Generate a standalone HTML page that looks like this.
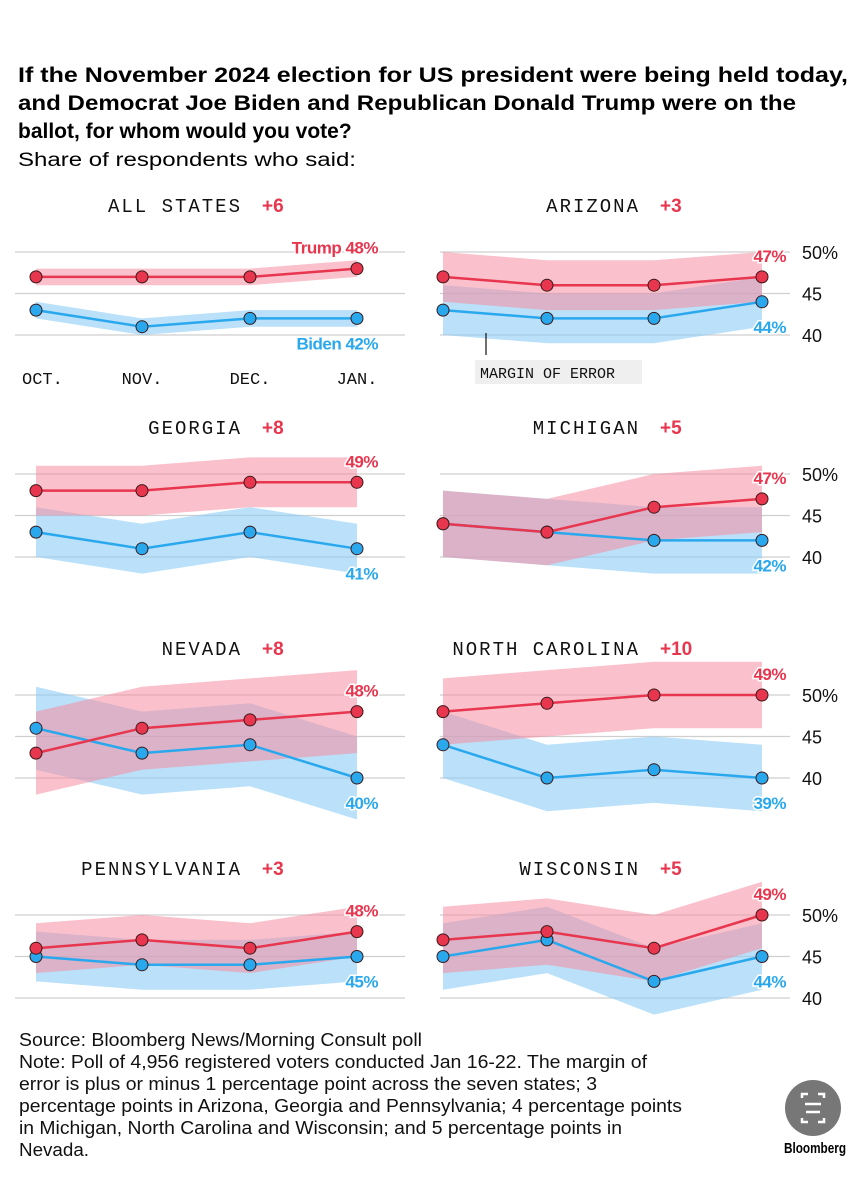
<!DOCTYPE html>
<html><head><meta charset="utf-8"><style>
html,body{margin:0;padding:0;background:#fff;}
svg{display:block;font-family:"Liberation Sans",sans-serif;}
.mono{font-family:"Liberation Mono",monospace;}
</style></head><body>
<svg id="chart" width="867" height="1200" viewBox="0 0 867 1200">
<g>
<text x="18" y="82" font-size="21" font-weight="bold" textLength="830" lengthAdjust="spacingAndGlyphs">If the November 2024 election for US president were being held today,</text>
<text x="18" y="110" font-size="21" font-weight="bold" textLength="778" lengthAdjust="spacingAndGlyphs">and Democrat Joe Biden and Republican Donald Trump were on the</text>
<text x="18" y="138" font-size="21" font-weight="bold">ballot, for whom would you vote?</text>
<text x="18" y="166" font-size="19" textLength="338" lengthAdjust="spacingAndGlyphs">Share of respondents who said:</text>
</g>
<g id="panels"></g>
<g font-size="18" fill="#111">
<text x="19" y="1046" textLength="403" lengthAdjust="spacingAndGlyphs">Source: Bloomberg News/Morning Consult poll</text>
<text x="19" y="1068" textLength="628" lengthAdjust="spacingAndGlyphs">Note: Poll of 4,956 registered voters conducted Jan 16-22. The margin of</text>
<text x="19" y="1090" textLength="578" lengthAdjust="spacingAndGlyphs">error is plus or minus 1 percentage point across the seven states; 3</text>
<text x="19" y="1112" textLength="663" lengthAdjust="spacingAndGlyphs">percentage points in Arizona, Georgia and Pennsylvania; 4 percentage points</text>
<text x="19" y="1134" textLength="603" lengthAdjust="spacingAndGlyphs">in Michigan, North Carolina and Wisconsin; and 5 percentage points in</text>
<text x="19" y="1156" textLength="70" lengthAdjust="spacingAndGlyphs">Nevada.</text>
</g>
<g>
<circle cx="813" cy="1108" r="28" fill="#777"/>
<path d="M802 1098v-4h6M824 1098v-4h-6M802 1118v4h6M824 1118v4h-6M805 1104h16M806 1112h14" stroke="#fff" stroke-width="2.5" fill="none"/>
<text x="846" y="1153" font-size="15" font-weight="bold" text-anchor="end" textLength="62" lengthAdjust="spacingAndGlyphs">Bloomberg</text>
</g>
</svg>
<script>
const panelNames = ["ALL STATES","ARIZONA","GEORGIA","MICHIGAN","NEVADA","NORTH CAROLINA","PENNSYLVANIA","WISCONSIN"];
const trumpValues = [[47,47,47,48],[47,46,46,47],[48,48,49,49],[44,43,46,47],[43,46,47,48],[48,49,50,50],[46,47,46,48],[47,48,46,50]];
const bidenValues = [[43,41,42,42],[43,42,42,44],[43,41,43,41],[44,43,42,42],[46,43,44,40],[44,40,41,40],[45,44,44,45],[45,47,42,45]];
const marginOfError = [1,3,3,4,5,4,3,4];
const trumpLabels = ["48%","47%","49%","47%","48%","49%","48%","49%"];
const bidenLabels = ["42%","44%","41%","42%","40%","39%","45%","44%"];
const leadLabels = ["+6","+3","+8","+5","+8","+10","+3","+5"];
const monthLabels = ["OCT.","NOV.","DEC.","JAN."];
const tickValues = [50,45,40];

const NS="http://www.w3.org/2000/svg";
const root=document.getElementById("panels");
function mk(tag,attrs,parent){const e=document.createElementNS(NS,tag);for(const k in attrs)e.setAttribute(k,attrs[k]);(parent||root).appendChild(e);return e;}
const rowTop=[252,474,695,915];
const colX=[[36,142,250,357],[443,547,654,762]];
const gridX=[[15,405],[440,790]];
const PT=8.3;

panelNames.forEach((name,i)=>{
  const col=i%2,row=Math.floor(i/2);
  const y50=rowTop[row];
  const yS=v=>y50+(50-v)*PT;
  const xS=j=>colX[col][j];
  const g=mk("g",{});
  
  
  const cx=col===0?252:650;
  const t=mk("text",{x:cx-10,y:y50-40,"font-size":19,"text-anchor":"end","class":"mono","letter-spacing":"2",fill:"#111"},g);
  t.textContent=name;
  
  
  const ld=mk("text",{x:cx+10,y:y50-40,"font-size":19,"font-weight":"bold",fill:"#e8364f"},g);
  ld.textContent=leadLabels[i];
  
  
  tickValues.forEach((tv,k)=>{
    const gl=mk("line",{x1:gridX[col][0],x2:gridX[col][1],y1:yS(tv),y2:yS(tv),stroke:"#cfcfcf","stroke-width":1.2},g);
    
    
    if(col===1){
      const tl=mk("text",{x:802,y:yS(tv)+7,"font-size":18,fill:"#111"},g);
      tl.textContent=tv+(k===0?"%":"");
      
      
    }
  });
  const moe=marginOfError[i];
  const band=(vals,fill)=>{
    let d="M"+vals.map((v,j)=>xS(j)+","+yS(v+moe)).join("L");
    d+="L"+vals.slice().reverse().map((v,j)=>xS(3-j)+","+yS(v-moe)).join("L")+"Z";
    return mk("path",{d:d,fill:fill},g);
  };
  const bb=band(bidenValues[i],"rgba(140,205,245,0.6)");
  
  
  const tb=band(trumpValues[i],"rgba(245,140,160,0.55)");
  
  
  const series=(vals,color,nm)=>{
    const l=mk("polyline",{points:vals.map((v,j)=>xS(j)+","+yS(v)).join(" "),fill:"none",stroke:color,"stroke-width":2.5},g);
    
    
    vals.forEach((v,j)=>{
      const c=mk("circle",{cx:xS(j),cy:yS(v),r:6,fill:color,stroke:"#3a1a1a","stroke-width":1},g);
      
      
    });
  };
  series(bidenValues[i],"#2aa8ee","biden");
  series(trumpValues[i],"#e8364f","trump");
  const lx=col===0?378:786;
  const tv=trumpValues[i][3],bv=bidenValues[i][3];
  const tlab=mk("text",{x:lx,y:yS(tv)-15,"font-size":17,"font-weight":"bold","text-anchor":"end",fill:"#e8364f",stroke:"#fff","stroke-width":3,"paint-order":"stroke","letter-spacing":"-0.5"},g);
  tlab.textContent=(i===0?"Trump ":"")+trumpLabels[i];
  
  
  const blab=mk("text",{x:lx,y:yS(bv)+31,"font-size":17,"font-weight":"bold","text-anchor":"end",fill:"#2aa8ee",stroke:"#fff","stroke-width":3,"paint-order":"stroke","letter-spacing":"-0.5"},g);
  blab.textContent=(i===0?"Biden ":"")+bidenLabels[i];
  
  
  if(i===0){
    monthLabels.forEach((m,j)=>{
      const ml=mk("text",{x:xS(j)+(j===0?-14:0),y:384,"font-size":17,"class":"mono","text-anchor":j===0?"start":"middle",fill:"#111"},g);
      ml.textContent=m;
      
      
    });
  }
  if(i===1){
    const ln=mk("line",{x1:486,x2:486,y1:333,y2:355,stroke:"#111","stroke-width":1.2},g);
    
    
    const r=mk("rect",{x:475,y:360,width:167,height:24,fill:"#efefef"},g);
    
    
    const at=mk("text",{x:480,y:378,"font-size":15,"class":"mono",fill:"#111"},g);
    at.textContent="MARGIN OF ERROR";
    
    
  }
});
</script>
</body></html>
